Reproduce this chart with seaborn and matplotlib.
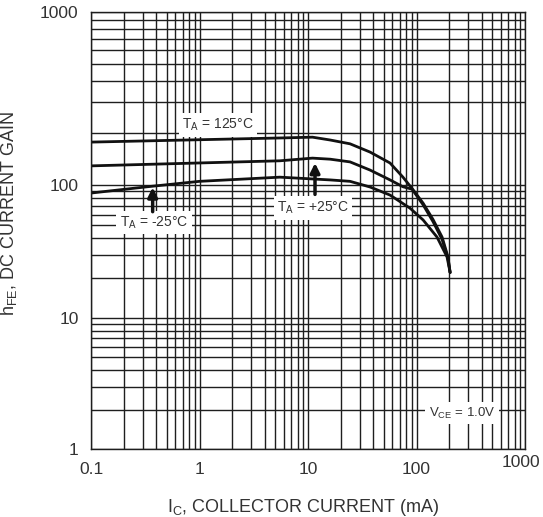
import matplotlib
matplotlib.use("Agg")
import matplotlib.pyplot as plt
import matplotlib.transforms as mtransforms
import numpy as np
import pandas as pd
import seaborn as sns
from matplotlib.ticker import FixedLocator, FixedFormatter, LogLocator, NullFormatter

# ── data ──────────────────────────────────────────────────────────────────────
ic_125 = [0.1, 5.5, 11, 16, 24.4, 37.3, 57, 75, 93, 115, 142, 172, 195, 204]
hfe_125 = [177, 187, 189, 182, 173, 155, 134, 111, 92, 73, 55, 40.6, 28.8, 22]

ic_25 = [0.1, 5.5, 11, 16, 24.4, 37.3, 57, 75, 91, 115, 142, 172, 195, 204]
hfe_25 = [129, 138, 143, 141, 136, 122, 107, 97, 93, 71, 53, 39, 28, 22]

ic_m25 = [0.1, 0.33, 1.0, 5.5, 16, 24.4, 37.3, 57, 87, 115, 154.5, 191, 204]
hfe_m25 = [87, 97, 105, 111, 107, 105, 96.6, 84, 67, 54.6, 40.6, 28.8, 22]

x_ticks = [0.1, 1, 10, 100, 1000]
x_labels = ["0.1", "1", "10", "100", "1000"]
y_ticks = [1, 10, 100, 1000]
y_labels = ["1", "10", "100", "1000"]

# decade positions of the printed (slightly uneven) y grid, in pixels from bottom
Y_DEC = [0, 131, 264, 437]


def y_fwd(v):
    v = np.clip(np.asarray(v, dtype=float), 1e-6, None)
    return np.interp(np.log10(v), [0, 1, 2, 3], Y_DEC)


def y_inv(p):
    return 10 ** np.interp(np.asarray(p, dtype=float), Y_DEC, [0, 1, 2, 3])


df = pd.concat([
    pd.DataFrame({"ic": ic_125, "hfe": hfe_125, "temp": "125"}),
    pd.DataFrame({"ic": ic_25, "hfe": hfe_25, "temp": "25"}),
    pd.DataFrame({"ic": ic_m25, "hfe": hfe_m25, "temp": "-25"}),
])

sns.set_theme(style="white")
plt.rcParams["font.family"] = ["Liberation Sans", "DejaVu Sans"]
plt.rcParams["mathtext.default"] = "regular"
TXT = "#333333"

fig = plt.figure(figsize=(5.43, 5.17), dpi=100)
ax = fig.add_axes([0.1676, 0.1315, 0.7993, 0.8453])

ax.set_xscale("log")
ax.set_yscale("function", functions=(y_fwd, y_inv))
ax.set_xlim(0.1, 1000)
ax.set_ylim(1, 1000)

# graph-paper grid
ax.xaxis.set_major_locator(FixedLocator(x_ticks))
ax.xaxis.set_major_formatter(FixedFormatter(x_labels))
ax.yaxis.set_major_locator(FixedLocator(y_ticks))
ax.yaxis.set_major_formatter(FixedFormatter(y_labels))
ax.xaxis.set_minor_locator(LogLocator(base=10, subs=np.arange(2, 10), numticks=20))
ax.yaxis.set_minor_locator(LogLocator(base=10, subs=np.arange(2, 10), numticks=20))
ax.xaxis.set_minor_formatter(NullFormatter())
ax.yaxis.set_minor_formatter(NullFormatter())
ax.grid(True, which="both", color="#1e1e1e", lw=1.0)
ax.tick_params(which="both", length=0, labelsize=12.5, colors=TXT)
ax.tick_params(axis="x", pad=9)
ax.tick_params(axis="y", pad=9)
for sp in ax.spines.values():
    sp.set_color("#1e1e1e")
    sp.set_linewidth(1.0)

sns.lineplot(data=df, x="ic", y="hfe", hue="temp",
             palette=["#111111"] * 3, lw=2.0, legend=False, ax=ax, sort=True)

# the printed "1000" on the x axis sits a little higher and further in
fig.canvas.draw()
last = ax.get_xticklabels()[-1]
last.set_transform(last.get_transform()
                   + mtransforms.ScaledTranslation(-4 / 100, 7 / 100, fig.dpi_scale_trans))

# annotations
box = dict(facecolor="white", edgecolor="none", pad=2.5)
ax.text(1.48, 222, r"T$_A$ = 125°C", ha="center", va="center",
        fontsize=10, color=TXT, bbox=box)
ax.text(0.38, 52, r"T$_A$ = -25°C", ha="center", va="center",
        fontsize=10, color=TXT, bbox=box)
ax.text(11.1, 67, r"T$_A$ = +25°C", ha="center", va="center",
        fontsize=10, color=TXT, bbox=box)
ax.text(263, 1.88, r"V$_{CE}$ = 1.0V", ha="center", va="center",
        fontsize=9.5, color=TXT, bbox=box)

arrow = dict(arrowstyle="-|>", lw=2.5, color="#111111", mutation_scale=14,
             shrinkA=0, shrinkB=0)
ax.annotate("", xy=(0.37, 96), xytext=(0.37, 63), arrowprops=arrow)
ax.annotate("", xy=(11.6, 134), xytext=(11.6, 85), arrowprops=arrow)

ax.set_xlabel(r"I$_C$, COLLECTOR CURRENT (mA)", fontsize=13, color=TXT)
ax.set_ylabel(r"h$_{FE}$, DC CURRENT GAIN", fontsize=13, color=TXT)
ax.xaxis.set_label_coords(0.49, -0.11)
ax.yaxis.set_label_coords(-0.165, 0.54)

fig.savefig("out.png", dpi=100)
